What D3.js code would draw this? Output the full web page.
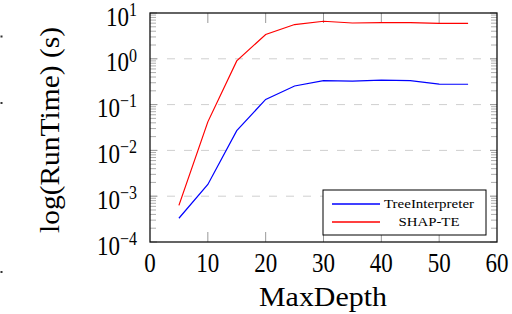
<!DOCTYPE html>
<html>
<head>
<meta charset="utf-8">
<script src="https://cdn.jsdelivr.net/npm/d3@7"></script>
<style>
  body { margin: 0; background: #fff; }
  svg text { font-family: "Liberation Serif", serif; fill: #000; }
</style>
</head>
<body>
<div id="chart"></div>
<script>
// chart data
var depths = [5, 10, 15, 20, 25, 30, 35, 40, 45, 50, 55];
var treeInterpreter = [0.00033, 0.0018, 0.027, 0.13, 0.255, 0.333, 0.325, 0.344, 0.333, 0.28, 0.278];
var shapTE = [0.00063, 0.042, 0.9, 3.4, 5.6, 6.6, 6.05, 6.15, 6.15, 5.95, 5.95];
var seriesNames = ["TreeInterpreter", "SHAP-TE"];
var xTicks = [0, 10, 20, 30, 40, 50, 60];
var yExponents = [1, 0, -1, -2, -3, -4];

var width = 512;
var height = 314;
var margin = {left: 150, right: 15, top: 13, bottom: 72};

var svg = d3.select('#chart')
    .append('svg')
    .attr('width', width)
    .attr('height', height);

var xScale = d3.scaleLinear()
    .domain([0, 60])
    .range([margin.left, width - margin.right]);

var yScale = d3.scaleLog()
    .domain([1e-4, 10])
    .range([height - margin.bottom, margin.top]);

var x0 = xScale.range()[0], x1 = xScale.range()[1];
var y0 = yScale.range()[0], y1 = yScale.range()[1];

// dashed grid at the inner decades
svg.selectAll('line.grid')
    .data(yExponents.filter(function (e) { return e < 1 && e > -4; }))
    .enter()
    .append('line')
        .attr('x1', x0).attr('x2', x1)
        .attr('y1', function (e) { return yScale(Math.pow(10, e)); })
        .attr('y2', function (e) { return yScale(Math.pow(10, e)); })
        .attr('stroke', '#cfcfcf')
        .attr('stroke-width', 1)
        .attr('stroke-dasharray', '8,9');

// minor and major y ticks, both sides, pointing inward
var minorVals = [];
for (var e = -4; e < 1; e++) {
    for (var m = 2; m <= 9; m++) minorVals.push(m * Math.pow(10, e));
}
var majorVals = yExponents.map(function (e) { return Math.pow(10, e); });

[x0, x1].forEach(function (xx, side) {
    var dir = side === 0 ? 1 : -1;
    svg.append('g').selectAll('line')
        .data(minorVals)
        .enter()
        .append('line')
            .attr('x1', xx).attr('x2', xx + dir * 6)
            .attr('y1', function (d) { return yScale(d); })
            .attr('y2', function (d) { return yScale(d); })
            .attr('stroke', '#999')
            .attr('stroke-width', 0.8);
    svg.append('g').selectAll('line')
        .data(majorVals)
        .enter()
        .append('line')
            .attr('x1', xx).attr('x2', xx + dir * 7)
            .attr('y1', function (d) { return yScale(d); })
            .attr('y2', function (d) { return yScale(d); })
            .attr('stroke', '#999')
            .attr('stroke-width', 1);
});

// x ticks top and bottom
[y0, y1].forEach(function (yy, side) {
    var dir = side === 0 ? -1 : 1;
    svg.append('g').selectAll('line')
        .data(xTicks.slice(1, -1))
        .enter()
        .append('line')
            .attr('x1', function (d) { return xScale(d); })
            .attr('x2', function (d) { return xScale(d); })
            .attr('y1', yy).attr('y2', yy + dir * 10)
            .attr('stroke', '#999')
            .attr('stroke-width', 1);
});

// lines
var line = d3.line()
    .x(function (d) { return xScale(d[0]); })
    .y(function (d) { return yScale(d[1]); });

var series = [
    {name: seriesNames[0], color: '#0000ff', values: d3.zip(depths, treeInterpreter)},
    {name: seriesNames[1], color: '#ff0000', values: d3.zip(depths, shapTE)}
];

svg.selectAll('path.series')
    .data(series)
    .enter()
    .append('path')
        .attr('d', function (d) { return line(d.values); })
        .attr('fill', 'none')
        .attr('stroke', function (d) { return d.color; })
        .attr('stroke-width', 1.2);

// frame
svg.append('rect')
    .attr('x', x0).attr('y', y1)
    .attr('width', x1 - x0).attr('height', y0 - y1)
    .attr('fill', 'none')
    .attr('stroke', '#111')
    .attr('stroke-width', 1.3);

// x tick labels
svg.selectAll('text.xt')
    .data(xTicks)
    .enter()
    .append('text')
        .attr('text-anchor', 'middle')
        .attr('font-size', 23)
        .attr('transform', function (d) { return 'translate(' + xScale(d) + ',' + (y0 + 30) + ') scale(1,1.15)'; })
        .text(function (d) { return d; });

// y tick labels 10^e
var yt = svg.selectAll('text.yt')
    .data(yExponents)
    .enter()
    .append('text')
        .attr('text-anchor', 'end')
        .attr('font-size', 23)
        .attr('transform', function (e) { return 'translate(137,' + (yScale(Math.pow(10, e)) + 12.5) + ') scale(1,1.15)'; });
yt.append('tspan').text('10');
yt.append('tspan')
    .attr('font-size', 16)
    .attr('dy', -8.5)
    .text(function (e) { return e < 0 ? '\u2212' + (-e) : e; });

// axis titles
svg.append('text')
    .attr('text-anchor', 'middle')
    .attr('font-size', 28)
    .attr('x', (x0 + x1) / 2 - 0.5)
    .attr('y', 306)
    .attr('textLength', 128)
    .attr('lengthAdjust', 'spacingAndGlyphs')
    .text('MaxDepth');

svg.append('text')
    .attr('text-anchor', 'middle')
    .attr('font-size', 28)
    .attr('transform', 'translate(59,130) rotate(-90)')
    .attr('textLength', 206)
    .attr('lengthAdjust', 'spacingAndGlyphs')
    .text('log(RunTime) (s)');

// legend
var legend = svg.append('g');
legend.append('rect')
    .attr('x', 323).attr('y', 190)
    .attr('width', 163).attr('height', 45)
    .attr('fill', '#fff')
    .attr('stroke', '#000')
    .attr('stroke-width', 1);

var legendRows = legend.selectAll('g.row')
    .data(series)
    .enter()
    .append('g')
        .attr('transform', function (d, i) { return 'translate(0,' + (204 + i * 18) + ')'; });
legendRows.append('line')
    .attr('x1', 332).attr('x2', 380)
    .attr('y1', 0).attr('y2', 0)
    .attr('stroke', function (d) { return d.color; })
    .attr('stroke-width', 1.3);
legendRows.append('text')
    .attr('x', 429)
    .attr('y', 4)
    .attr('text-anchor', 'middle')
    .attr('font-size', 13)
    .attr('textLength', function (d, i) { return i === 0 ? 90 : 61; })
    .attr('lengthAdjust', 'spacingAndGlyphs')
    .text(function (d) { return d.name; });

// small marks at the left edge of the picture
svg.selectAll('rect.speck')
    .data([36.5, 103, 272])
    .enter()
    .append('rect')
        .attr('x', 0.5).attr('y', function (d) { return d - 1; })
        .attr('width', 2).attr('height', 2)
        .attr('fill', '#333');
</script>
</body>
</html>
